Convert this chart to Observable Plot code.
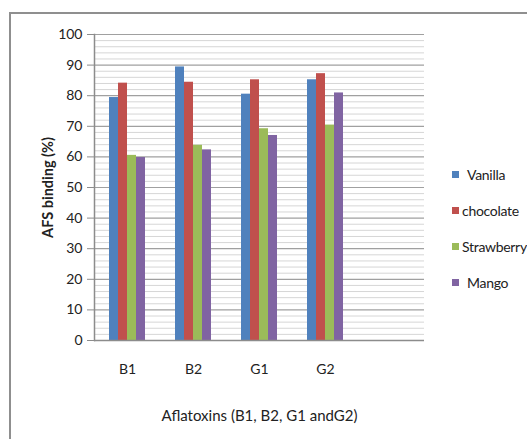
<!DOCTYPE html>
<html><head><meta charset="utf-8">
<script src="https://cdn.jsdelivr.net/npm/d3@7"></script>
<script src="https://cdn.jsdelivr.net/npm/@observablehq/plot@0.6"></script>
<style>
body{margin:0;background:#fff;}
#wrap{position:relative;width:527px;height:439px;overflow:hidden;font-family:Lato,"Open Sans",sans-serif;}
#frame{position:absolute;left:9px;top:12px;width:600px;height:500px;border:2px solid #8f8f8f;box-sizing:border-box;}
#chart{position:absolute;left:0;top:0;}
#legend{position:absolute;left:452px;top:166px;font-size:14px;letter-spacing:-0.3px;color:#222;}
#legend .row{height:36px;display:flex;align-items:flex-start;}
#legend .sw{width:7px;height:7px;margin-top:5px;margin-right:3px;}
g[aria-label="y-axis label"] text{font-weight:bold;font-size:14.5px;}
g[aria-label="fx-axis label"] text{font-size:15px;}
</style></head>
<body><div id="wrap"><div id="frame"></div><div id="chart"></div><div id="legend"></div></div>
<script>
const categories = ["B1","B2","G1","G2"];
const slots = ["B1","B2","G1","G2"," "];
const series = ["Vanilla","chocolate","Strawberry","Mango"];
const vanilla = [79.4, 89.4, 80.5, 85.2];
const chocolate = [84.1, 84.4, 85.2, 87.2];
const strawberry = [60.5, 63.8, 69.2, 70.4];
const mango = [59.8, 62.3, 67.0, 80.9];
const colors = ["#4F81BD","#C0504D","#9BBB59","#8064A2"];
const majorTicks = d3.range(0, 101, 10);
const minorTicks = d3.range(0, 101, 2).filter(v => v % 10 !== 0);

const values = [vanilla, chocolate, strawberry, mango];
const rows = categories.flatMap((c, i) => series.map((s, j) => ({cat: c, series: s, value: values[j][i]})));
const minorGrid = slots.flatMap(c => minorTicks.map(v => ({cat: c, v})));
const majorGrid = slots.flatMap(c => majorTicks.map(v => ({cat: c, v})));
const base = slots.map(c => ({cat: c, v: 0}));

const chart = Plot.plot({
  width: 527, height: 439,
  marginLeft: 93, marginRight: 102, marginTop: 34, marginBottom: 99,
  style: {fontFamily: "Lato, 'Open Sans', sans-serif", fontSize: "14px", color: "#222", background: "transparent"},
  fx: {domain: slots, paddingInner: 0, paddingOuter: 0},
  x: {domain: series, paddingInner: 0, paddingOuter: 1.46, axis: null},
  y: {domain: [0, 100]},
  color: {domain: series, range: colors},
  marks: [
    Plot.ruleY(minorGrid, {fx: "cat", y: "v", stroke: "#d6d6d6", strokeWidth: 1}),
    Plot.ruleY(majorGrid, {fx: "cat", y: "v", stroke: "#a0a0a0", strokeWidth: 1.2}),
    Plot.barY(rows, {fx: "cat", x: "series", y: "value", fill: "series"}),
    Plot.ruleY(base, {fx: "cat", y: "v", stroke: "#8c8c8c", strokeWidth: 1.5}),
    Plot.frame({anchor: "left", stroke: "#8c8c8c", strokeWidth: 1.5, facetAnchor: "left"}),
    Plot.axisY({ticks: majorTicks, tickSize: 7, tickPadding: 5, stroke: "#8c8c8c", label: "AFS binding (%)", labelAnchor: "center", labelArrow: "none", labelOffset: 52, fontSize: 14}),
    Plot.axisFx({anchor: "bottom", tickSize: 0, tickPadding: 24, label: "Aflatoxins (B1, B2, G1 andG2)", labelAnchor: "center", labelArrow: "none", labelOffset: 80, fontSize: 14})
  ]
});
document.getElementById("chart").appendChild(chart);

const legend = document.getElementById("legend");
series.forEach((s, i) => {
  const row = document.createElement("div");
  row.className = "row";
  const sw = document.createElement("div");
  sw.className = "sw";
  sw.style.background = colors[i];
  const t = document.createElement("span");
  t.textContent = s;
  if (s === "Vanilla" || s === "Mango") t.style.marginLeft = "5px";
  row.appendChild(sw); row.appendChild(t);
  legend.appendChild(row);
});
</script></body></html>
